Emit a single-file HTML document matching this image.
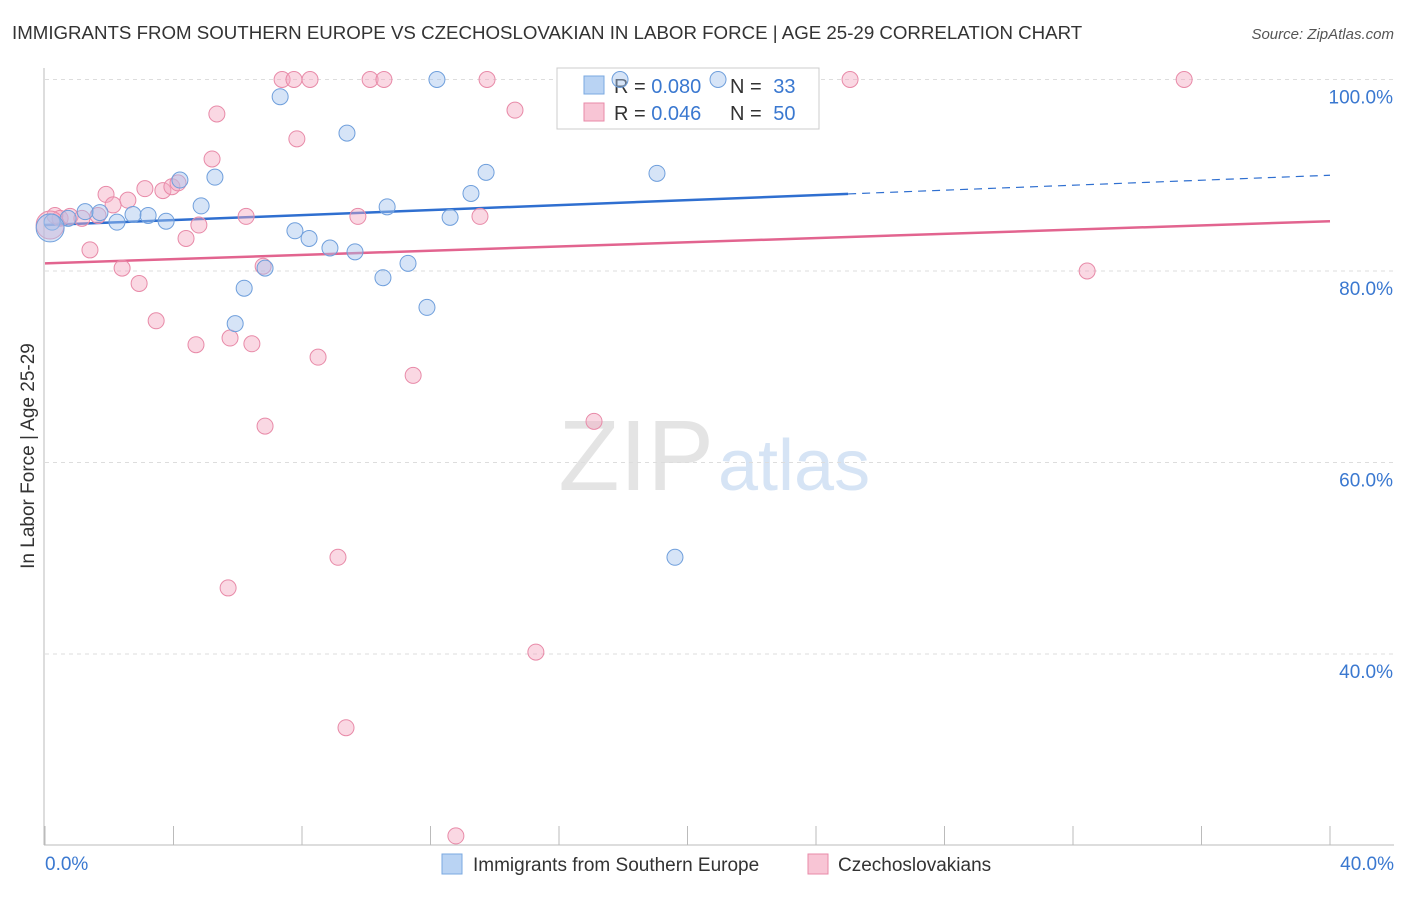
<!DOCTYPE html>
<html><head><meta charset="utf-8"><style>
body{margin:0;background:#fff;font-family:"Liberation Sans",sans-serif;}
svg text{font-family:"Liberation Sans",sans-serif;}
</style></head><body>
<svg width="1406" height="892" xmlns="http://www.w3.org/2000/svg">
<text x="12" y="39" font-size="18.7" fill="#333">IMMIGRANTS FROM SOUTHERN EUROPE VS CZECHOSLOVAKIAN IN LABOR FORCE | AGE 25-29 CORRELATION CHART</text>
<text x="1394" y="39" font-size="15" fill="#555" text-anchor="end" font-style="italic">Source: ZipAtlas.com</text>
<text x="714" y="490" font-size="100" fill="#e4e4e4" text-anchor="end" font-family="Liberation Serif">ZIP</text>
<text x="718" y="490" font-size="72" fill="#d6e4f5">atlas</text>
<g id="grid"></g>
<g id="axes"></g>
<g>
<rect x="557" y="68" width="262" height="61" fill="#fff" stroke="#ccc"/>
<rect x="584" y="76" width="20" height="18" fill="#b9d3f3" stroke="#7aa8e0"/>
<text x="614" y="93" font-size="20" fill="#333">R = <tspan fill="#3a78d0">0.080</tspan></text>
<text x="730" y="93" font-size="20" fill="#333">N = <tspan fill="#3a78d0" dx="6">33</tspan></text>
<rect x="584" y="103" width="20" height="18" fill="#f8c5d5" stroke="#e88aa8"/>
<text x="614" y="120" font-size="20" fill="#333">R = <tspan fill="#3a78d0">0.046</tspan></text>
<text x="730" y="120" font-size="20" fill="#333">N = <tspan fill="#3a78d0" dx="6">50</tspan></text>
</g>
<g id="trends"></g>
<g id="pts"></g>
<g>
<rect x="442" y="854" width="20" height="20" fill="#b9d3f3" stroke="#7aa8e0"/>
<text x="473" y="871" font-size="19" fill="#333">Immigrants from Southern Europe</text>
<rect x="808" y="854" width="20" height="20" fill="#f8c5d5" stroke="#e88aa8"/>
<text x="838" y="871" font-size="19" fill="#333">Czechoslovakians</text>
</g>
<text x="45" y="870" font-size="19" fill="#3a78d0">0.0%</text>
<text x="1394" y="870" font-size="19" fill="#3a78d0" text-anchor="end">40.0%</text>
<text transform="translate(34,456) rotate(-90)" font-size="19" fill="#333" text-anchor="middle">In Labor Force | Age 25-29</text>
</svg>
<script>
const yTicks=[100,80,60,40];
const yTickLabels=["100.0%","80.0%","60.0%","40.0%"];
const blueX=[0.22,0.72,1.25,1.71,2.24,2.74,3.21,3.77,4.20,4.86,5.29,6.20,5.92,6.85,7.32,7.78,8.22,8.87,9.40,9.65,10.52,10.65,11.30,11.89,12.20,12.61,13.26,13.73,17.90,19.05,19.61,20.95,0.16];
const blueY=[85.1,85.5,86.2,86.1,85.1,85.9,85.8,85.2,89.5,86.8,89.8,78.2,74.5,80.3,98.2,84.2,83.4,82.4,94.4,82.0,79.3,86.7,80.8,76.2,100,85.6,88.1,90.3,100,90.2,50.1,100,84.5];
const pinkX=[0.31,0.47,0.78,1.15,1.40,1.65,1.90,2.12,2.40,2.58,2.93,3.11,3.46,3.67,3.95,4.14,4.39,4.79,4.70,5.20,5.35,5.76,5.70,6.26,6.44,6.79,6.85,7.38,7.75,7.84,8.25,8.50,9.12,9.37,9.74,10.12,10.55,11.46,12.79,13.54,13.76,14.63,15.28,17.09,25.06,32.44,35.46,0.16];
const pinkY=[85.8,85.5,85.7,85.5,82.2,85.8,88.0,86.9,80.3,87.4,78.7,88.6,74.8,88.4,88.8,89.2,83.4,84.8,72.3,91.7,96.4,73.0,46.9,85.7,72.4,80.5,63.8,100,100,93.8,100,71.0,50.1,32.3,85.7,100,100,69.1,21.0,85.7,100,96.8,40.2,64.3,100,80.0,100,84.8];
const blueTrend=[84.8,90.0], blueSolidEnd=25;
const pinkTrend=[80.8,85.2];
const NS="http://www.w3.org/2000/svg";
const sx=v=>45+v/40*1285;
const sy=v=>79.5+(100-v)*9.575;
function mk(t,a,p){const e=document.createElementNS(NS,t);for(const k in a)e.setAttribute(k,a[k]);document.getElementById(p).appendChild(e);return e;}
yTicks.forEach((t,i)=>{
 const l=mk('line',{x1:45,x2:1394,y1:sy(t),y2:sy(t),stroke:'#ddd','stroke-dasharray':'4,4'},'grid');
 
 
 const tx=mk('text',{x:1393,y:sy(t)+24,'font-size':19,fill:'#3a78d0','text-anchor':'end'},'grid');
 tx.textContent=yTickLabels[i];
 
 
});
const ax=mk('line',{x1:44,x2:44,y1:68,y2:845,stroke:'#bbb'},'axes');


const bx=mk('line',{x1:44,x2:1394,y1:845,y2:845,stroke:'#bbb'},'axes');


for(let i=0;i<=40;i+=4){const t=mk('line',{x1:sx(i),x2:sx(i),y1:826,y2:845,stroke:'#bbb'},'axes');
 
 }
function pts(X,Y,fill,stroke,name){X.forEach((x,i)=>{
 const big=i===X.length-1;
 const c=mk('circle',{cx:sx(x),cy:sy(Y[i]),r:big?14:8,fill:fill,'fill-opacity':0.45,stroke:stroke,'stroke-width':1},'pts');
 
 });}
pts(pinkX,pinkY,'#f4a9c0','#e88aa8','point-czechoslovakian');
pts(blueX,blueY,'#a3c4ee','#6f9fdc','point-southern-europe');
const byAt=v=>blueTrend[0]+(blueTrend[1]-blueTrend[0])*v/40;
const b1=mk('line',{x1:sx(0),y1:sy(blueTrend[0]),x2:sx(blueSolidEnd),y2:sy(byAt(blueSolidEnd)),stroke:'#2f6fd0','stroke-width':2.5},'trends');


const b2=mk('line',{x1:sx(blueSolidEnd),y1:sy(byAt(blueSolidEnd)),x2:sx(40),y2:sy(blueTrend[1]),stroke:'#2f6fd0','stroke-width':1.2,'stroke-dasharray':'8,6'},'trends');


const p1=mk('line',{x1:sx(0),y1:sy(pinkTrend[0]),x2:sx(40),y2:sy(pinkTrend[1]),stroke:'#e2648f','stroke-width':2.5},'trends');


</script>
</body></html>
